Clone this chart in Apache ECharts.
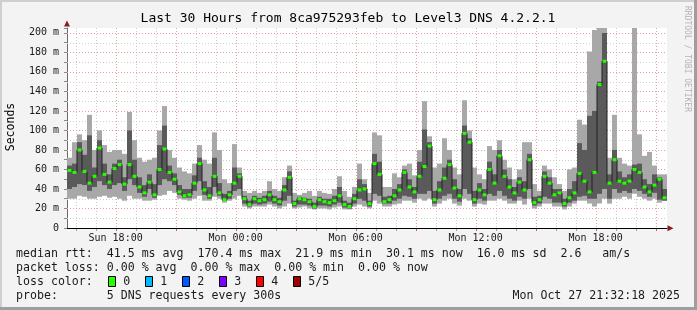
<!DOCTYPE html>
<html><head><meta charset="utf-8">
<script src="https://cdn.jsdelivr.net/npm/echarts@6/dist/echarts.min.js"></script>
<style>html,body{margin:0;padding:0;background:#f3f3f3}#c{width:697px;height:310px}</style>
</head><body><div id="c"></div>
<script>
// ---------- data ----------
const startHour = 15.57;          // left edge of the plot (hours since Sun 00:00)
const spanHours = 30;
const stepHours = 0.25;           // one smoke column per step
const median = [59,57,80,58,46,53,82,55,47,61, 65,45,65,53,42,36,47,34,60,81, 57,50,37,33,34,46,66,39,33,53, 36,29,34,46,53,30,24,30,28,29,
  34,29,27,39,52,25,30,29,27,22, 29,27,26,28,33,24,22,30,39,40, 25,66,55,27,29,33,39,57,42,37, 53,63,84,29,39,51,65,41,33,97,
  88,29,39,34,60,46,74,53,42,36, 47,39,70,26,29,53,46,34,36,25, 31,36,56,48,37,57,147,171,46,70, 48,46,48,60,57,42,37,44,50,31];
const smokeLo = [30,30,33,32,30,30,32,33,31,32, 30,28,33,30,30,28,28,29,33,34, 38,36,30,29,28,30,33,28,28,32, 30,26,28,30,33,22,20,22,22,22,
  24,22,20,22,25,20,21,22,20,19, 20,20,19,21,22,19,19,22,24,22, 20,28,25,22,22,24,25,28,28,26, 30,28,30,22,25,28,30,25,23,30,
  28,22,25,24,28,28,30,28,25,25, 28,24,30,20,22,25,25,22,22,19, 22,25,28,28,25,22,25,30,25,30, 30,32,30,35,32,30,28,30,26,28];
const smokeHi = [72,88,96,90,116,80,100,85,78,80, 80,76,119,90,72,68,70,72,100,125, 80,72,62,58,56,66,85,70,66,98, 80,50,46,86,62,38,36,38,36,38,
  48,40,38,52,64,36,34,36,38,33, 38,36,35,40,53,38,32,42,66,50, 36,98,95,42,42,56,52,64,66,54, 80,130,94,62,66,92,80,62,55,131,
  100,62,55,50,84,80,90,70,62,50, 60,88,88,45,38,64,60,52,45,38, 60,62,111,106,181,203,205,205,72,116, 72,66,64,205,96,74,78,64,55,55];
const darkLo = [40,42,45,44,38,42,48,44,40,44, 46,38,50,44,36,32,40,31,44,50, 48,44,34,31,31,38,48,34,30,42, 33,28,30,38,40,25,22,25,24,25,
  27,25,23,28,33,22,24,24,23,20, 23,23,22,24,26,21,20,25,30,28, 22,35,33,25,25,28,30,33,32,30, 35,35,38,25,30,33,35,30,27,40,
  35,25,30,28,35,33,38,33,30,28, 32,30,40,23,25,32,30,26,26,22, 26,28,32,33,30,30,35,40,30,40, 36,38,36,40,38,35,32,36,29,28];
const darkHi = [64,66,88,75,95,62,90,66,55,66, 70,52,100,70,52,44,55,45,85,105, 64,56,44,40,40,54,72,48,42,72, 46,35,38,62,56,33,28,33,31,33,
  38,33,31,44,58,28,32,31,30,26, 32,30,30,33,42,28,26,35,50,45, 28,76,68,32,33,40,45,60,50,42, 68,101,88,38,48,62,70,50,40,105,
  92,38,46,40,68,55,80,60,50,42, 52,48,76,32,33,58,52,40,40,30, 40,48,87,80,115,120,150,200,55,80, 58,52,55,65,66,50,45,55,52,40];

const xTickHours = [18, 24, 30, 36, 42];
const xTickLabels = ['Sun 18:00', 'Mon 00:00', 'Mon 06:00', 'Mon 12:00', 'Mon 18:00'];
const hourGrid = [16,17,18,19,20,21,22,23,24,25,26,27,28,29,30,31,32,33,34,35,36,37,38,39,40,41,42,43,44,45];
const hourGridMajor = [18,21,24,27,30,33,36,39,42,45];
const valueGrid = [10,20,30,40,50,60,70,80,90,100,110,120,130,140,150,160,170,180,190,200];
const valueGridMajor = [20,40,60,80,100,120,140,160,180,200];

const titleText = 'Last 30 Hours from 8ca975293feb to Level3 DNS 4.2.2.1';
const statLines = [
  'median rtt:  41.5 ms avg  170.4 ms max  21.9 ms min  30.1 ms now  16.0 ms sd  2.6   am/s',
  'packet loss: 0.00 % avg  0.00 % max  0.00 % min  0.00 % now'
];
const lossLabels = ['0', '1', '2', '3', '4', '5/5'];
const lossColors = ['#26ff00', '#00b8ff', '#0059ff', '#7e00ff', '#ff0000', '#a10000'];
const probeText = 'probe:       5 DNS requests every 300s';
const dateText = 'Mon Oct 27 21:32:18 2025';

// ---------- build ----------
const MONO = '"DejaVu Sans Mono", monospace';
const times = median.map((_, i) => startHour + (i + 0.5) * stepHours);
const smokeData = times.map((t, i) => [t, smokeLo[i], smokeHi[i], darkLo[i], darkHi[i], median[i]]);
const medLine = times.map((t, i) => [t, median[i]]);
const gridData = [];
hourGrid.forEach(h => gridData.push([h, 0, 0, hourGridMajor.indexOf(h) >= 0 ? 1 : 0]));
valueGrid.forEach(v => gridData.push([startHour, v, 1, valueGridMajor.indexOf(v) >= 0 ? 1 : 0]));
const xLabelData = xTickHours.map((h, i) => [h, 0, i]);

const chart = echarts.init(document.getElementById('c'), null, {renderer: 'canvas'});

function txt(text, x, y, size, opts) {
  opts = opts || {};
  return {
    type: 'text', x: x, y: y, rotation: opts.rotation || 0, z: 10,
    style: {text: text, font: size + 'px ' + MONO, fill: opts.fill || '#1a1a1a',
      textAlign: opts.align || 'left', align: opts.align || 'left',
      textVerticalAlign: 'middle', verticalAlign: 'middle'}
  };
}

const graphics = [
  {type: 'rect', shape: {x: 0, y: 0, width: 697, height: 2}, style: {fill: '#cfcfcf'}, z: -1},
  {type: 'rect', shape: {x: 0, y: 0, width: 2, height: 310}, style: {fill: '#cfcfcf'}, z: -1},
  {type: 'rect', shape: {x: 694, y: 0, width: 3, height: 310}, style: {fill: '#9e9e9e'}, z: -1},
  {type: 'rect', shape: {x: 0, y: 307, width: 697, height: 3}, style: {fill: '#9e9e9e'}, z: -1},
  {type: 'polygon', shape: {points: [[64, 26.5], [70, 26.5], [67, 20.5]]}, style: {fill: '#8b1a1a'}, z: 10},
  {type: 'polygon', shape: {points: [[667.5, 225.3], [667.5, 231.3], [673.5, 228.3]]}, style: {fill: '#8b1a1a'}, z: 10},
  txt(titleText, 348, 19, 13, {align: 'center', fill: '#000'}),
  txt('Seconds', 11, 127, 11.5, {align: 'center', rotation: Math.PI / 2, fill: '#000'}),
  txt('RRDTOOL / TOBI OETIKER', 687, 59, 8, {align: 'center', rotation: -Math.PI / 2, fill: '#b4b4b4'}),
  txt(statLines[0], 16, 254.3, 11.6),
  txt(statLines[1], 16, 268.3, 11.6),
  txt('loss color:', 16, 282.3, 11.6),
  txt(probeText, 16, 296.2, 11.6),
  txt(dateText, 680, 296.2, 11.6, {align: 'right'})
];
lossLabels.forEach((lab, i) => {
  const bx = 108.5 + i * 37;
  graphics.push({type: 'rect', shape: {x: bx, y: 276.5, width: 7, height: 10},
    style: {fill: lossColors[i], stroke: '#000', lineWidth: 1}, z: 10});
  graphics.push(txt(lab, bx + 14.8, 282.3, 11.6));
});

chart.setOption({
  backgroundColor: '#f3f3f3',
  animation: false,
  grid: {left: 67, right: 30, top: 28, bottom: 82, show: true, backgroundColor: '#ffffff', borderWidth: 0},
  xAxis: {type: 'value', min: startHour, max: startHour + spanHours,
    axisLine: {show: true, onZero: false, lineStyle: {color: '#000', width: 1}},
    axisTick: {show: false}, axisLabel: {show: false}, splitLine: {show: false}},
  yAxis: {type: 'value', min: 0, max: 205, interval: 10,
    axisLine: {show: true, lineStyle: {color: '#6a6a6a', width: 1}},
    axisTick: {show: true, length: 3, lineStyle: {color: '#8a8a8a'}},
    axisLabel: {margin: 8, fontFamily: '"DejaVu Sans Mono", monospace', fontSize: 10, color: '#1a1a1a',
      formatter: v => (v % 20 === 0 && v <= 200) ? (v === 0 ? '0' : v + ' m') : ''},
    splitLine: {show: false}},
  graphic: graphics,
  series: [
    { // grid lines
      type: 'custom', z: 1, silent: true, data: gridData,
      renderItem: function (params, api) {
        const cs = params.coordSys;
        const major = api.value(3);
        const col = major ? '#e2a2a2' : '#cdcdcd';
        if (api.value(2) === 0) {
          const x = Math.round(api.coord([api.value(0), 0])[0]) + 0.5;
          return {type: 'group', children: [
            {type: 'line', shape: {x1: x, y1: cs.y, x2: x, y2: cs.y + cs.height},
              style: {stroke: col, lineWidth: 1, lineDash: [1, 2]}},
            {type: 'line', shape: {x1: x, y1: cs.y + cs.height + 1, x2: x, y2: cs.y + cs.height + 3},
              style: {stroke: major ? '#d06060' : '#a0a0a0', lineWidth: 1}}
          ]};
        }
        const y = Math.round(api.coord([startHour, api.value(1)])[1]) + 0.5;
        return {type: 'line', shape: {x1: cs.x, y1: y, x2: cs.x + cs.width, y2: y},
          style: {stroke: col, lineWidth: 1, lineDash: [1, 2]}};
      }
    },
    { // smoke
      type: 'custom', z: 2, silent: true, data: smokeData,
      encode: {x: 0, y: [1, 2]},
      renderItem: function (params, api) {
        const t = api.value(0);
        const w = api.size([stepHours, 0])[0];
        const x0 = api.coord([t - stepHours / 2, 0])[0];
        const yLo = api.coord([t, api.value(1)])[1];
        const yHi = api.coord([t, api.value(2)])[1];
        const yDLo = api.coord([t, api.value(3)])[1];
        const yDHi = api.coord([t, api.value(4)])[1];
        return {type: 'group', children: [
          {type: 'rect', shape: {x: x0, y: yHi, width: w, height: yLo - yHi}, style: {fill: '#a8a8a8'}},
          {type: 'rect', shape: {x: x0, y: yDHi, width: w, height: yDLo - yDHi}, style: {fill: '#5a5a5a'}}
        ]};
      }
    },
    { // median line
      type: 'line', z: 3, silent: true, data: medLine, step: 'middle', symbol: 'none',
      lineStyle: {color: '#202020', width: 1}
    },
    { // median loss-colour marks
      type: 'custom', z: 4, silent: true, data: smokeData, encode: {x: 0, y: 5},
      renderItem: function (params, api) {
        const p = api.coord([api.value(0), api.value(5)]);
        return {type: 'rect', shape: {x: p[0] - 2, y: p[1] - 1.5, width: 4, height: 3}, style: {fill: lossColors[0]}};
      }
    },
    { // x tick labels
      type: 'custom', z: 5, silent: true, data: xLabelData, clip: false,
      renderItem: function (params, api) {
        const p = api.coord([api.value(0), 0]);
        return {type: 'text', x: p[0], y: p[1] + 10,
          style: {text: xTickLabels[api.value(2)], font: '10px ' + MONO, fill: '#1a1a1a',
            textAlign: 'center', align: 'center', textVerticalAlign: 'middle', verticalAlign: 'middle'}};
      }
    }
  ]
});
</script>
</body></html>
